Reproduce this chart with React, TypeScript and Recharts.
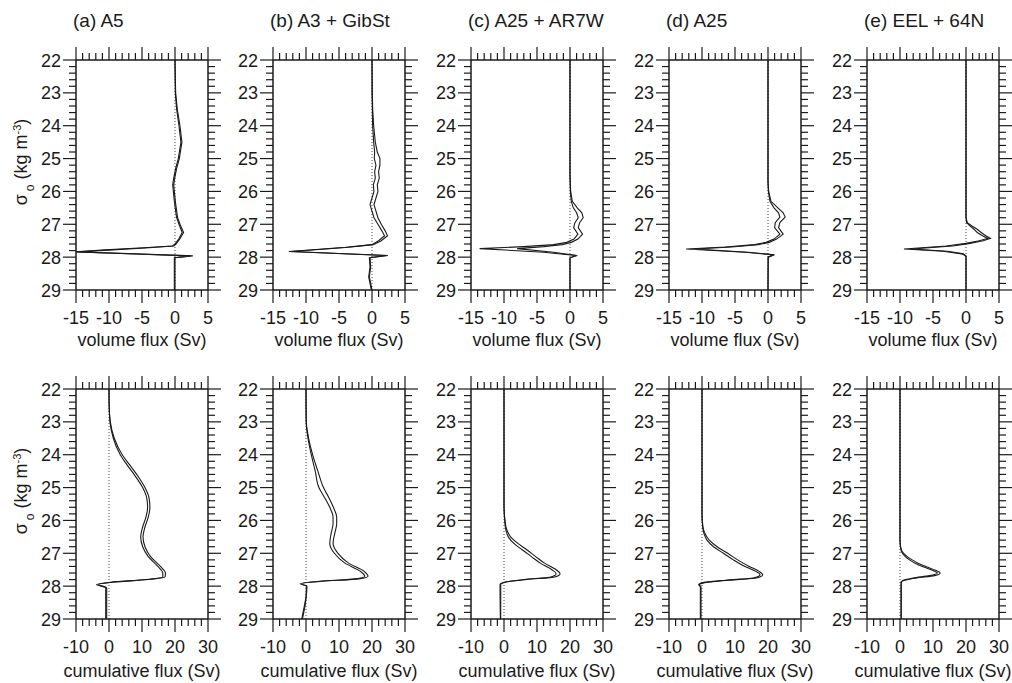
import React from 'react';
import { LineChart, Line, XAxis, YAxis, ReferenceLine } from 'recharts';

// ---- volume flux (Sv) against sigma_0, upper row; lo / hi are the two bounding profiles
const sigA = [22, 22.5, 23, 23.5, 24, 24.5, 25, 25.3, 25.6, 25.8, 26, 26.3, 26.6, 26.8, 27, 27.25, 27.45, 27.6, 27.66, 27.72, 27.78, 27.84, 27.96, 28.02, 28.5, 29];
const volA_lo = [0, 0.02, 0.05, 0.25, 0.6, 0.9, 0.5, 0.1, -0.2, -0.35, -0.25, -0.1, 0.1, 0.25, 0.6, 1.1, 0.55, 0.0, -0.4, -5.5, -10.5, -15.5, 2.4, -0.1, -0.1, -0.1];
const volA_hi = [0, 0.04, 0.1, 0.35, 0.75, 1.05, 0.65, 0.25, -0.05, -0.2, -0.1, 0.05, 0.25, 0.4, 0.75, 1.3, 0.7, 0.15, -0.2, -4.5, -9.5, -14.8, 2.7, 0, 0, 0];

const sigB = [22, 23, 23.5, 24, 24.5, 24.8, 25, 25.2, 25.4, 25.6, 25.8, 26, 26.2, 26.4, 26.6, 26.8, 27, 27.2, 27.35, 27.5, 27.62, 27.7, 27.76, 27.83, 27.95, 28.02, 28.3, 28.6, 28.8, 29];
const volB_lo = [0, 0, 0.05, 0.1, 0.25, 0.4, 0.35, 0.6, 0.4, 0.5, 0.2, 0.3, 0.0, -0.3, 0.0, 0.3, 0.9, 1.5, 1.9, 1.0, 0.0, -4, -8, -12.6, 2.2, -0.4, -0.3, -0.5, -0.3, -0.1];
const volB_hi = [0, 0.05, 0.1, 0.25, 0.5, 0.8, 1.2, 1.2, 1.0, 1.1, 0.8, 0.9, 0.6, 0.3, 0.6, 0.9, 1.4, 2.0, 2.35, 1.4, 0.2, -3.5, -7.5, -12.2, 2.4, -0.3, -0.2, -0.4, -0.2, 0];

const sigC = [22, 25.5, 26, 26.3, 26.5, 26.65, 26.8, 26.95, 27.1, 27.3, 27.45, 27.55, 27.62, 27.68, 27.74, 27.85, 27.95, 28.02, 29];
const volC_lo = [0, 0, 0.05, 0.2, 0.5, 1.0, 1.25, 0.75, 0.55, 1.2, 0.6, -0.5, -2.5, -7, -13.7, -4, 0.9, 0, 0];
const volC_hi = [0, 0, 0.1, 0.35, 1.1, 1.8, 2.0, 1.45, 1.25, 1.9, 1.2, 0.2, -1.2, -4, -8, -2.5, 1.1, 0, 0];

const sigD = [22, 25.7, 26, 26.3, 26.5, 26.65, 26.78, 26.95, 27.1, 27.3, 27.45, 27.55, 27.62, 27.69, 27.75, 27.85, 27.93, 28.0, 29];
const volD_lo = [0, 0, 0.05, 0.3, 0.9, 1.6, 1.8, 1.1, 1.0, 1.8, 0.9, -0.3, -2, -6.5, -12.4, -3.5, 0.8, 0, 0];
const volD_hi = [0, 0, 0.1, 0.45, 1.5, 2.3, 2.6, 1.8, 1.6, 2.3, 1.3, 0.2, -1.5, -5.5, -11, -3, 1.0, 0.05, 0];

const sigE = [22, 26.8, 26.95, 27.05, 27.15, 27.25, 27.35, 27.43, 27.5, 27.58, 27.66, 27.75, 27.82, 27.9, 27.97, 29];
const volE_lo = [0, 0, 0.1, 0.6, 1.2, 1.7, 2.5, 3.3, 2.0, 0, -3, -9.4, -3.5, -0.6, 0, 0];
const volE_hi = [0, 0, 0.2, 0.9, 1.7, 2.3, 3.0, 3.7, 2.6, 0.6, -2, -8.2, -2.8, -0.4, 0, 0];

// ---- cumulative flux (Sv), lower row
const sigLA = [22, 22.5, 23, 23.5, 24, 24.3, 24.6, 25, 25.3, 25.6, 25.9, 26.2, 26.5, 26.8, 27.1, 27.4, 27.6, 27.72, 27.8, 27.88, 27.95, 28.05, 29];
const cumA_lo = [0, 0.05, 0.3, 1.3, 3.4, 5.4, 7.6, 10.2, 11.4, 11.7, 11.2, 10.2, 9.6, 10.2, 11.9, 14.8, 16.3, 16.3, 11, 0.5, -3.8, -1, -1];
const cumA_hi = [0, 0.05, 0.4, 1.6, 4.0, 6.2, 8.4, 10.9, 12.1, 12.4, 11.9, 10.9, 10.3, 10.9, 12.6, 15.6, 17.1, 17.0, 12, 1, -3.2, -0.7, -0.7];

const sigLB = [22, 23, 23.5, 24, 24.5, 25, 25.3, 25.6, 25.9, 26.1, 26.4, 26.7, 27.0, 27.3, 27.55, 27.7, 27.78, 27.85, 27.93, 28.0, 28.3, 28.6, 29];
const cumB_lo = [0, 0.05, 0.6, 1.6, 2.8, 3.9, 5.6, 7.2, 8.2, 8.2, 7.6, 7.2, 8.6, 11.8, 16.5, 17.8, 15, 4, -1.8, 0.1, 0, -0.5, -1.3];
const cumB_hi = [0, 0.1, 0.8, 2.0, 3.6, 5.3, 6.9, 8.3, 9.3, 9.3, 8.7, 8.2, 9.7, 12.9, 17.6, 18.8, 16, 5, -1.4, 0.3, 0.1, -0.3, -1.1];

const sigLC = [22, 25.5, 26, 26.3, 26.5, 26.7, 26.9, 27.1, 27.3, 27.5, 27.62, 27.72, 27.8, 27.88, 27.95, 29];
const cumC_lo = [0, 0, 0.2, 0.6, 1.3, 3.0, 5.6, 8.3, 11.0, 14.5, 15.8, 14.2, 6, 0, -1.2, -1.1];
const cumC_hi = [0, 0, 0.3, 0.9, 2.0, 4.2, 7.0, 9.6, 12.3, 15.8, 17.0, 15.4, 7, 0.5, -1.0, -1.0];

const sigLD = [22, 25.8, 26.2, 26.4, 26.6, 26.8, 27.0, 27.2, 27.4, 27.55, 27.65, 27.75, 27.82, 27.9, 27.96, 28.02, 29];
const cumD_lo = [0, 0, 0.2, 0.6, 1.5, 3.5, 6.5, 9.5, 13, 16.3, 17.6, 15.5, 7, 0, -1.0, -0.5, -0.5];
const cumD_hi = [0, 0, 0.3, 0.9, 2.2, 4.6, 7.8, 10.8, 14.3, 17.3, 18.4, 16.5, 8, 0.5, -0.8, -0.3, -0.3];

const sigLE = [22, 26.6, 26.9, 27.0, 27.1, 27.2, 27.3, 27.42, 27.52, 27.6, 27.68, 27.75, 27.82, 27.88, 29];
const cumE_lo = [0, 0, 0.3, 0.7, 1.6, 2.9, 4.6, 7.2, 9.8, 11.3, 9, 4, 1, 0.3, 0.3];
const cumE_hi = [0, 0, 0.4, 1.1, 2.2, 3.7, 5.5, 8.2, 10.8, 12.2, 10.5, 5, 1.5, 0.4, 0.4];

// ---- axes
const SIGMA_TICKS = [22, 23, 24, 25, 26, 27, 28, 29];
const VOL_TICKS = [-15, -10, -5, 0, 5];
const CUM_TICKS = [-10, 0, 10, 20, 30];
const TITLES = ['(a) A5', '(b) A3 + GibSt', '(c) A25 + AR7W', '(d) A25', '(e) EEL + 64N'];

const FONT = '"Liberation Sans", Arial, Helvetica, sans-serif';
const INK = '#1a1a1a';
const COL_X = [76, 273, 471, 669, 867];
const ROW_Y = [60, 389];
const PW = 132;
const PH = 230;

const withMinor = (major: number[], n: number) => {
  const out: number[] = [];
  for (let i = 0; i < major.length - 1; i++) {
    const step = (major[i + 1] - major[i]) / n;
    for (let k = 0; k < n; k++) out.push(+(major[i] + k * step).toFixed(3));
  }
  out.push(major[major.length - 1]);
  return out;
};

const Tick = (props: any) => {
  const { x, y, payload, side, majors, showLabel } = props;
  const v = payload.value;
  const isMajor = majors.some((m: number) => Math.abs(m - v) < 1e-6);
  const len = isMajor ? 13 : 7;
  let x2 = x;
  let y2 = y;
  if (side === 'left') x2 = x - len;
  if (side === 'right') x2 = x + len;
  if (side === 'top') y2 = y - len;
  if (side === 'bottom') y2 = y + len;
  return (
    <g>
      <line x1={x} y1={y} x2={x2} y2={y2} stroke={INK} strokeWidth={1.2} />
      {showLabel && isMajor && side === 'left' && (
        <text x={x - 15} y={y + 6.5} textAnchor="end" fontSize={18} fontFamily={FONT} fill={INK}>{v}</text>
      )}
      {showLabel && isMajor && side === 'bottom' && (
        <text x={x} y={y + 34} textAnchor="middle" fontSize={18} fontFamily={FONT} fill={INK}>{v}</text>
      )}
    </g>
  );
};

const Panel = ({ sigma, lo, hi, xMajor, curve }: any) => {
  const rows = sigma.map((s: number, i: number) => ({ s, lo: lo[i], hi: hi[i] }));
  const xDomain = [xMajor[0], xMajor[xMajor.length - 1]];
  const xTicks = withMinor(xMajor, 5);
  const yTicks = withMinor(SIGMA_TICKS, 5);
  const axisLine = { stroke: INK, strokeWidth: 1.5 };
  return (
    <LineChart layout="vertical" width={40 + PW + 20} height={20 + PH + 45} data={rows}
      margin={{ top: 0, right: 0, bottom: 0, left: 0 }}>
      <XAxis type="number" orientation="bottom" domain={xDomain} ticks={xTicks} interval={0} allowDataOverflow
        height={45} tickSize={0} tickMargin={0} tickLine={false} axisLine={axisLine}
        tick={(p: any) => <Tick {...p} side="bottom" majors={xMajor} showLabel />} />
      <XAxis xAxisId="t" type="number" orientation="top" domain={xDomain} ticks={xTicks} interval={0} allowDataOverflow
        height={20} tickSize={0} tickMargin={0} tickLine={false} axisLine={axisLine}
        tick={(p: any) => <Tick {...p} side="top" majors={xMajor} />} />
      <YAxis type="number" dataKey="s" orientation="left" domain={[22, 29]} ticks={yTicks} interval={0} allowDataOverflow
        width={40} tickSize={0} tickMargin={0} tickLine={false} axisLine={axisLine}
        tick={(p: any) => <Tick {...p} side="left" majors={SIGMA_TICKS} showLabel />} />
      <YAxis yAxisId="r" type="number" dataKey="s" orientation="right" domain={[22, 29]} ticks={yTicks} interval={0} allowDataOverflow
        width={20} tickSize={0} tickMargin={0} tickLine={false} axisLine={axisLine}
        tick={(p: any) => <Tick {...p} side="right" majors={SIGMA_TICKS} />} />
      <ReferenceLine x={0} stroke="#444" strokeWidth={1} strokeDasharray="1 2" />
      <Line xAxisId="t" yAxisId="r" type="linear" dataKey="lo" stroke="none" dot={false} activeDot={false} isAnimationActive={false} />
      <Line type={curve} dataKey="lo" stroke={INK} strokeWidth={1.1} dot={false} activeDot={false} isAnimationActive={false} />
      <Line type={curve} dataKey="hi" stroke={INK} strokeWidth={1.1} dot={false} activeDot={false} isAnimationActive={false} />
    </LineChart>
  );
};

const upper = [
  { sigma: sigA, lo: volA_lo, hi: volA_hi },
  { sigma: sigB, lo: volB_lo, hi: volB_hi },
  { sigma: sigC, lo: volC_lo, hi: volC_hi },
  { sigma: sigD, lo: volD_lo, hi: volD_hi },
  { sigma: sigE, lo: volE_lo, hi: volE_hi },
];
const lower = [
  { sigma: sigLA, lo: cumA_lo, hi: cumA_hi },
  { sigma: sigLB, lo: cumB_lo, hi: cumB_hi },
  { sigma: sigLC, lo: cumC_lo, hi: cumC_hi },
  { sigma: sigLD, lo: cumD_lo, hi: cumD_hi },
  { sigma: sigLE, lo: cumE_lo, hi: cumE_hi },
];

const YLabel = ({ cy }: { cy: number }) => (
  <text transform={`rotate(-90, 27, ${cy})`} x={27} y={cy} textAnchor="middle" fontSize={18} fontFamily={FONT} fill={INK}>
    σ<tspan dx={3} fontSize={12} baselineShift="sub">o</tspan>
    <tspan> (kg m</tspan>
    <tspan fontSize={11} baselineShift="super">-3</tspan>
    <tspan>)</tspan>
  </text>
);

export default function App() {
  return (
    <div style={{ position: 'absolute', left: 0, top: 0, width: 1012, height: 683, background: '#fff', overflow: 'hidden' }}>
      {upper.map((p, i) => (
        <div key={`u${i}`} style={{ position: 'absolute', left: COL_X[i] - 40, top: ROW_Y[0] - 20 }}>
          <Panel {...p} xMajor={VOL_TICKS} curve="linear" />
        </div>
      ))}
      {lower.map((p, i) => (
        <div key={`l${i}`} style={{ position: 'absolute', left: COL_X[i] - 40, top: ROW_Y[1] - 20 }}>
          <Panel {...p} xMajor={CUM_TICKS} curve="monotone" />
        </div>
      ))}
      <svg width={1012} height={683} style={{ position: 'absolute', left: 0, top: 0, pointerEvents: 'none' }}>
        {TITLES.map((t, i) => (
          <text key={t} x={COL_X[i] - 3} y={27} fontSize={19} fontFamily={FONT} fill={INK}>{t}</text>
        ))}
        {COL_X.map((x, i) => (
          <g key={`xl${i}`}>
            <text x={x + PW / 2} y={ROW_Y[0] + PH + 56} textAnchor="middle" fontSize={18} fontFamily={FONT} fill={INK}>volume flux (Sv)</text>
            <text x={x + PW / 2} y={ROW_Y[1] + PH + 58} textAnchor="middle" fontSize={18} fontFamily={FONT} fill={INK}>cumulative flux (Sv)</text>
          </g>
        ))}
        <YLabel cy={ROW_Y[0] + 102} />
        <YLabel cy={ROW_Y[1] + 102} />
      </svg>
    </div>
  );
}
